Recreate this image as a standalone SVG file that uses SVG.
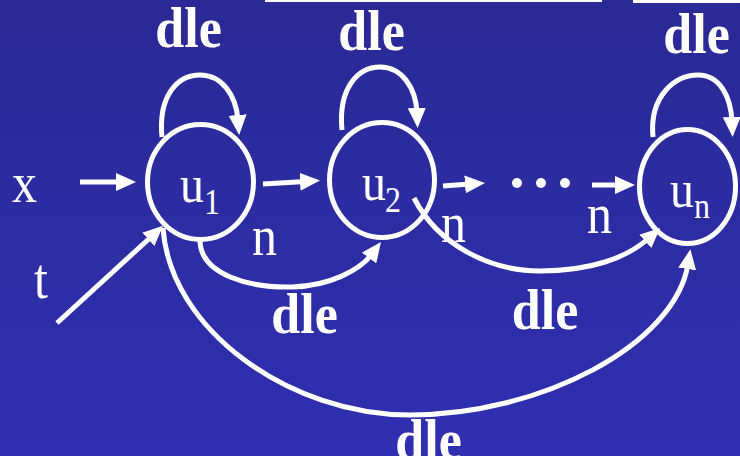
<svg xmlns="http://www.w3.org/2000/svg" width="740" height="456" viewBox="0 0 740 456">
<defs>
<linearGradient id="bg" x1="0" y1="0" x2="0" y2="1">
<stop offset="0" stop-color="#2a2995"/>
<stop offset="1" stop-color="#2f2fb1"/>
</linearGradient>
<marker id="ah" viewBox="0 0 20 18" refX="5" refY="9" markerWidth="20" markerHeight="18" markerUnits="userSpaceOnUse" orient="auto">
<path d="M0,0 L20,9 L0,18 z" fill="#fff"/>
</marker>
<style>
.node{fill:none;stroke:#fff;stroke-width:5}
.edge{fill:none;stroke:#fff;stroke-width:5;marker-end:url(#ah)}
.lbl{font-family:"Liberation Serif","Times New Roman",serif;fill:#fff;font-size:48px}
.reg{font-family:"Liberation Serif","Times New Roman",serif;fill:#fff;font-size:50px}
.bold{font-family:"Liberation Serif","Times New Roman",serif;fill:#fff;font-size:52px;font-weight:bold;text-anchor:middle}
</style>
</defs>
<rect width="740" height="456" fill="url(#bg)"/>
<rect x="265" y="0" width="337" height="2" fill="#fff"/>
<rect x="633" y="0" width="107" height="3" fill="#fff"/>

<g id="connectors">
<path class="edge" d="M80 182 L121 182"/>
<path class="edge" d="M57 323 L152 236"/>
<path class="edge" d="M263 184 L305 181.5"/>
<path class="edge" d="M443 186 L470 184"/>
<path class="edge" d="M592 185 L620 185"/>
<path class="edge" d="M162 137 C158 95 178 75 200 75 C222 75 236 95 238 120"/>
<path class="edge" d="M342 130 C338 88 358 67 380 67 C402 67 416 88 417 113"/>
<path class="edge" d="M653 137 C649 95 676 75 698 75 C720 75 731 97 732 122"/>
<path class="edge" d="M200 240 C200 275 250 288 292 287 C330 286 360 270 372 254"/>
<path class="edge" d="M414 198 C438 245 490 271 540 271 C590 271 627 258 649 238"/>
<path class="edge" d="M163 228 C170 330 290 415 410 415 C540 415 675 345 688 264"/>
</g>

<g id="u1">
<ellipse class="node" cx="200.5" cy="182" rx="53" ry="57.5"/>
<text class="lbl" transform="translate(180,202) scale(1,1.12)">u<tspan x="24" y="10.7" font-size="32">1</tspan></text>
</g>
<g id="u2">
<ellipse class="node" cx="382" cy="180" rx="52.5" ry="57.5"/>
<text class="lbl" transform="translate(362,200) scale(1,1.12)">u<tspan x="23" y="10.7" font-size="32">2</tspan></text>
</g>
<g id="un">
<ellipse class="node" cx="687.5" cy="186.5" rx="48" ry="57"/>
<text class="lbl" transform="translate(670,207) scale(1,1.12)">u<tspan x="24" y="9.8" font-size="32">n</tspan></text>
</g>
<g id="dots">
<circle cx="517" cy="183" r="5" fill="#fff"/>
<circle cx="541" cy="183" r="5" fill="#fff"/>
<circle cx="565" cy="183" r="5" fill="#fff"/>
</g>

<g id="labels">
<text class="reg" transform="translate(12,202) scale(1,1.12)">x</text>
<text class="reg" transform="translate(34,298) scale(1,1.12)">t</text>
<text class="reg" transform="translate(252,255) scale(1,1.12)">n</text>
<text class="reg" transform="translate(441,242) scale(1,1.12)">n</text>
<text class="reg" transform="translate(587,233) scale(1,1.12)">n</text>
<text class="bold" transform="translate(188.5,47) scale(1,1.1)">dle</text>
<text class="bold" transform="translate(371.5,50) scale(1,1.1)">dle</text>
<text class="bold" transform="translate(696.5,53) scale(1,1.1)">dle</text>
<text class="bold" transform="translate(304.5,333) scale(1,1.1)">dle</text>
<text class="bold" transform="translate(545,329) scale(1,1.1)">dle</text>
<text class="bold" transform="translate(428.5,459) scale(1,1.1)">dle</text>
</g>
</svg>
